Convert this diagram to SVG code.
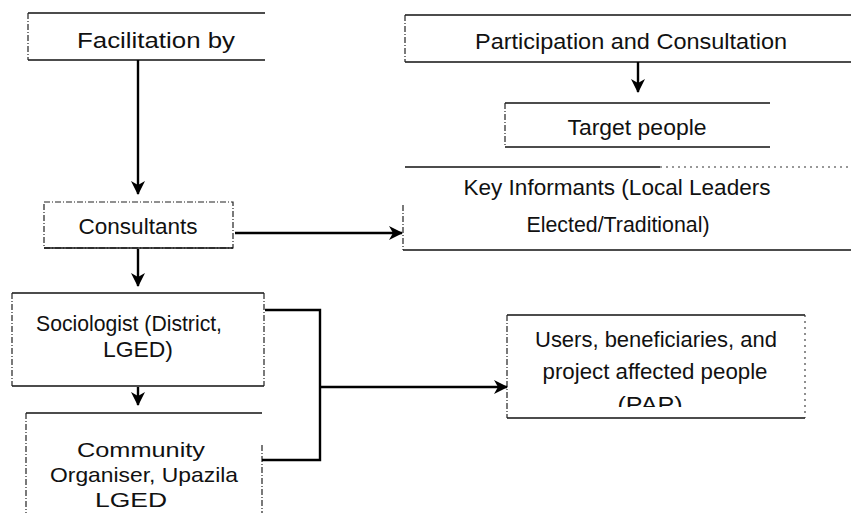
<svg xmlns="http://www.w3.org/2000/svg" width="851" height="513" viewBox="0 0 851 513">
  <defs>
    <style>
      .edge { stroke: #111; stroke-width: 1.4; fill: none; }
      .side { stroke: #222; stroke-width: 1.2; fill: none; stroke-dasharray: 6 2 1 2; }
      .dot { stroke: #333; stroke-width: 1.1; fill: none; stroke-dasharray: 2 4; }
      .lbl { font-family: "Liberation Sans", Arial, sans-serif; font-size: 22px; fill: #111; text-anchor: middle; }
      .sm { font-size: 21px; }
      .conn { stroke: #000; stroke-width: 2.4; fill: none; }
    </style>
    <marker id="arr" markerUnits="userSpaceOnUse" markerWidth="16" markerHeight="16" refX="13" refY="7" orient="auto">
      <path d="M0,0 L14,7 L0,14 L4,7 Z" fill="#000"/>
    </marker>
    <clipPath id="papclip">
      <rect x="500" y="390" width="310" height="17"/>
    </clipPath>
  </defs>
  <rect width="851" height="513" fill="#fff"/>

  <g id="facilitation">
    <line class="edge" x1="28" y1="13" x2="265" y2="13"/>
    <line class="edge" x1="28" y1="60" x2="265" y2="60"/>
    <line class="side" x1="28" y1="13" x2="28" y2="60"/>
    <text class="lbl" x="156" y="48" textLength="158" lengthAdjust="spacingAndGlyphs">Facilitation by</text>
  </g>

  <g id="participation">
    <line class="edge" x1="405" y1="15" x2="851" y2="15"/>
    <line class="edge" x1="405" y1="62" x2="851" y2="62"/>
    <line class="side" x1="405" y1="15" x2="405" y2="62"/>
    <text class="lbl" x="631" y="49" textLength="312" lengthAdjust="spacingAndGlyphs">Participation and Consultation</text>
  </g>

  <g id="target">
    <line class="edge" x1="505" y1="103" x2="770" y2="103"/>
    <line class="edge" x1="505" y1="147" x2="770" y2="147"/>
    <line class="side" x1="505" y1="103" x2="505" y2="147"/>
    <text class="lbl" x="637" y="135" textLength="139" lengthAdjust="spacingAndGlyphs">Target people</text>
  </g>

  <g id="key-informants">
    <line class="edge" x1="405" y1="167" x2="660" y2="167"/>
    <line class="dot" x1="660" y1="167" x2="851" y2="167"/>
    <line class="edge" x1="403" y1="250" x2="851" y2="250"/>
    <line class="side" x1="403" y1="205" x2="403" y2="250"/>
    <text class="lbl" x="617" y="195" textLength="307" lengthAdjust="spacingAndGlyphs">Key Informants (Local Leaders</text>
    <text class="lbl" x="618" y="232" textLength="183" lengthAdjust="spacingAndGlyphs">Elected/Traditional)</text>
  </g>

  <g id="consultants">
    <rect class="side" x="44" y="202" width="189" height="46"/>
    <line class="edge" x1="44" y1="248" x2="233" y2="248"/>
    <text class="lbl" x="138" y="234" textLength="119" lengthAdjust="spacingAndGlyphs">Consultants</text>
  </g>

  <g id="sociologist">
    <line class="edge" x1="12" y1="293" x2="264" y2="293"/>
    <line class="edge" x1="12" y1="386" x2="264" y2="386"/>
    <line class="side" x1="12" y1="293" x2="12" y2="386"/>
    <line class="side" x1="264" y1="293" x2="264" y2="386"/>
    <text class="lbl" x="129" y="331" textLength="186" lengthAdjust="spacingAndGlyphs">Sociologist (District,</text>
    <text class="lbl" x="138" y="357" textLength="70" lengthAdjust="spacingAndGlyphs">LGED)</text>
  </g>

  <g id="community">
    <line class="edge" x1="26" y1="413" x2="262" y2="413"/>
    <line class="side" x1="26" y1="413" x2="26" y2="513"/>
    <line class="side" x1="262" y1="445" x2="262" y2="513"/>
    <text class="lbl sm" x="141" y="457" textLength="128" lengthAdjust="spacingAndGlyphs">Community</text>
    <text class="lbl sm" x="144" y="482" textLength="188" lengthAdjust="spacingAndGlyphs">Organiser, Upazila</text>
    <text class="lbl sm" x="131" y="507" textLength="72" lengthAdjust="spacingAndGlyphs">LGED</text>
  </g>

  <g id="users">
    <line class="edge" x1="507" y1="315" x2="805" y2="315"/>
    <line class="edge" x1="507" y1="418" x2="805" y2="418"/>
    <line class="side" x1="507" y1="315" x2="507" y2="418"/>
    <line class="dot" x1="805" y1="315" x2="805" y2="418"/>
    <text class="lbl" x="656" y="347" textLength="242" lengthAdjust="spacingAndGlyphs">Users, beneficiaries, and</text>
    <text class="lbl" x="655" y="379" textLength="225" lengthAdjust="spacingAndGlyphs">project affected people</text>
    <text class="lbl" x="650" y="412" textLength="65" lengthAdjust="spacingAndGlyphs" clip-path="url(#papclip)">(PAP)</text>
  </g>

  <g id="connectors">
    <line class="conn" x1="138" y1="60" x2="138" y2="194" marker-end="url(#arr)"/>
    <line class="conn" x1="638" y1="62" x2="638" y2="92" marker-end="url(#arr)"/>
    <line class="conn" x1="235" y1="233" x2="402" y2="233" marker-end="url(#arr)"/>
    <line class="conn" x1="138" y1="249" x2="138" y2="286" marker-end="url(#arr)"/>
    <line class="conn" x1="138" y1="387" x2="138" y2="405" marker-end="url(#arr)"/>
    <polyline class="conn" points="265,310 320,310 320,460 262,460"/>
    <line class="conn" x1="320" y1="387" x2="507" y2="387" marker-end="url(#arr)"/>
  </g>
</svg>
